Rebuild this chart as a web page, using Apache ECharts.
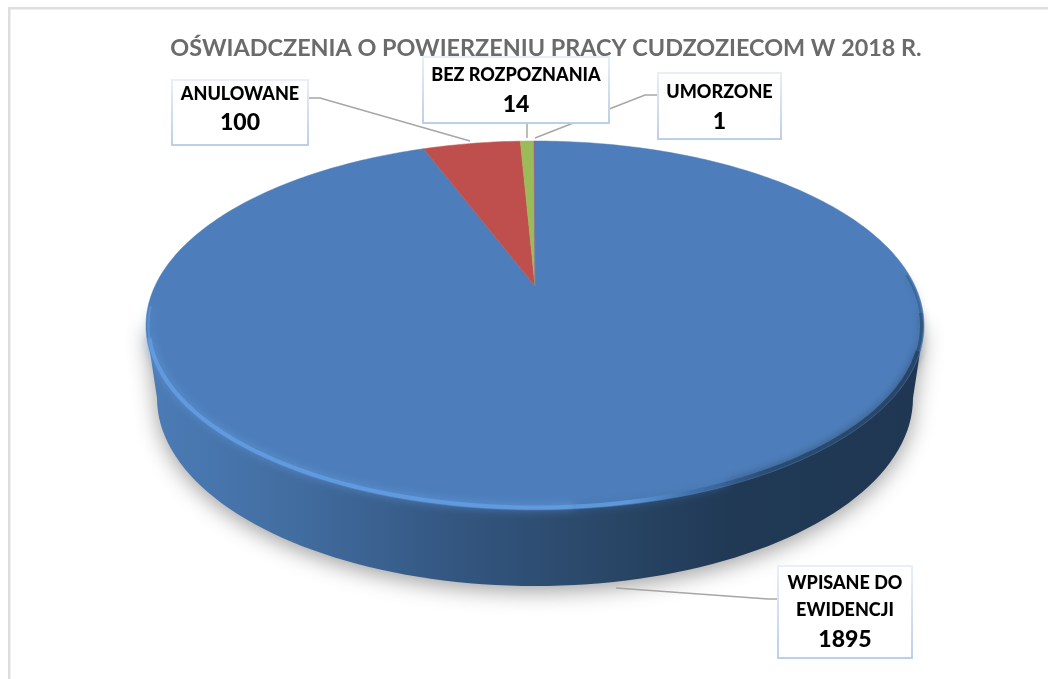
<!DOCTYPE html>
<html>
<head>
<meta charset="utf-8">
<title>Oświadczenia o powierzeniu pracy cudzoziecom</title>
<script src="https://cdn.jsdelivr.net/npm/echarts@6/dist/echarts.min.js"></script>
<style>
  html, body { margin: 0; padding: 0; background: #fff; }
  #main { width: 1048px; height: 679px; }
</style>
</head>
<body>
<div id="main"></div>
<script>
const titleText = 'OŚWIADCZENIA O POWIERZENIU PRACY CUDZOZIECOM W 2018 R.'
const categories = ['WPISANE DO\nEWIDENCJI', 'ANULOWANE', 'BEZ ROZPOZNANIA', 'UMORZONE']
const values = [1895, 100, 14, 1]
const sliceColors = ['#4d7ebb', '#bf4f4c', '#9bbb59', '#8064a2']

// label boxes, same order as categories
const labelBoxes = [
  { x: 778, y: 566, w: 134, h: 92, nameY: 597, valueY: 640, leader: [[616, 588], [768, 599], [778, 599]] },
  { x: 172, y: 80, w: 136, h: 65, nameY: 94, valueY: 123, leader: [[308, 98], [320, 98], [470, 141]] },
  { x: 423, y: 57, w: 186, h: 66, nameY: 75, valueY: 105, leader: [[527, 123], [527, 138]] },
  { x: 658, y: 73, w: 123, h: 66, nameY: 92, valueY: 122, leader: [[658, 95], [645, 95], [535, 138]] }
]

// pie face seen in perspective: apex of the slices and projection factors
const apex = [535, 286]
const faceA = 380
const faceB = 176
const faceK = -0.214
// outline of the face and of the bottom of the disc
const face = { cx: 535, cy: 325.5, rx: 389, ry: 184.5 }
const base = { cx: 535, cy: 398, rx: 378, ry: 188 }

const total = values.reduce((a, b) => a + b, 0)

// angle in degrees, clockwise from 12 o'clock
const project = deg => {
  const a = deg * Math.PI / 180
  const u = Math.sin(a)
  const v = -Math.cos(a)
  const d = 1 + faceK * v
  return [apex[0] + faceA * u / d, apex[1] + faceB * v / d]
}

const ellipseArc = (e, from, to, inset) => {
  const pts = []
  const n = Math.ceil(Math.abs(to - from) / 2)
  for (let i = 0; i <= n; i++) {
    const a = (from + (to - from) * i / n) * Math.PI / 180
    pts.push([e.cx + (e.rx - inset) * Math.cos(a), e.cy + (e.ry - inset) * Math.sin(a)])
  }
  return pts
}

const renderSide = () => {
  const points = [[face.cx - face.rx, face.cy]]
    .concat(ellipseArc(base, 180, 0, 0))
    .concat([[face.cx + face.rx, face.cy]])
  return {
    type: 'polygon',
    shape: { points },
    style: {
      fill: {
        type: 'linear',
        x: 146, y: 0, x2: 924, y2: 0,
        global: true,
        colorStops: [
          { offset: 0, color: '#4c7cb7' },
          { offset: 0.2, color: '#416c9f' },
          { offset: 0.4, color: '#335680' },
          { offset: 0.6, color: '#294666' },
          { offset: 0.75, color: '#203955' },
          { offset: 1, color: '#1f3752' }
        ]
      },
      shadowColor: 'rgba(0,0,0,0.38)',
      shadowBlur: 22,
      shadowOffsetY: 5
    }
  }
}

const renderSlice = (params, api) => {
  const before = values.slice(0, params.dataIndex).reduce((a, b) => a + b, 0)
  const start = before / total * 360
  const end = start + api.value(0) / total * 360
  const points = [apex]
  const n = Math.max(1, Math.ceil((end - start) / 1))
  for (let i = 0; i <= n; i++) points.push(project(start + (end - start) * i / n))
  const color = sliceColors[params.dataIndex]
  return {
    type: 'polygon',
    shape: { points },
    style: { fill: color, stroke: color, lineWidth: 0.5 }
  }
}

const rimGradient = {
  type: 'linear',
  x: 146, y: 0, x2: 924, y2: 0,
  global: true,
  colorStops: [
    { offset: 0, color: '#66a0e6' },
    { offset: 0.62, color: '#66a0e6' },
    { offset: 0.7, color: '#3f6fa8' },
    { offset: 0.8, color: '#234263' },
    { offset: 1, color: '#1f3752' }
  ]
}

const rimLine = (from, to, width, glow, opacity) => ({
  type: 'polyline',
  shape: { points: ellipseArc(face, from, to, 2.5) },
  style: { stroke: rimGradient, lineWidth: width, fill: null, shadowColor: glow, shadowBlur: 8, opacity }
})

const renderRim = () => ({
  type: 'group',
  children: [
    rimLine(186, 176, 2, '#66a0e6', 0.5),
    rimLine(176, 84, 4, '#66a0e6', 0.75),
    rimLine(84, 60, 4, '#3f6fa8', 0.75),
    rimLine(60, 8, 4, '#1f3752', 0.75),
    rimLine(8, -4, 3, '#1f3752', 0.5),
    rimLine(-4, -16, 2, '#1f3752', 0.3)
  ]
})

const labelGraphics = []
categories.forEach((name, i) => {
  const box = labelBoxes[i]
  labelGraphics.push({
    type: 'polyline',
    z: 10,
    shape: { points: box.leader },
    style: { stroke: '#a6a6a6', lineWidth: 1.5, fill: null }
  }, {
    type: 'rect',
    z: 11,
    shape: { x: box.x, y: box.y, width: box.w, height: box.h },
    style: {
      fill: '#fff',
      lineWidth: 2,
      stroke: {
        type: 'linear', x: 0, y: 0, x2: 0, y2: 1,
        colorStops: [{ offset: 0, color: '#e8eff8' }, { offset: 1, color: '#bccfe8' }]
      }
    }
  }, {
    type: 'text',
    z: 12,
    style: {
      x: box.x + box.w / 2,
      y: box.nameY,
      text: name,
      align: 'center',
      verticalAlign: 'middle',
      fill: '#000',
      font: '900 18px Lato',
      lineHeight: 27
    }
  }, {
    type: 'text',
    z: 12,
    style: {
      x: box.x + box.w / 2,
      y: box.valueY,
      text: String(values[i]),
      align: 'center',
      verticalAlign: 'middle',
      fill: '#000',
      font: '900 23px Lato'
    }
  })
})

const chart = echarts.init(document.getElementById('main'))
chart.setOption({
  animation: false,
  title: {
    text: titleText,
    left: 541,
    top: 32,
    textAlign: 'center',
    textStyle: { color: '#6b6b6b', fontFamily: 'Lato', fontWeight: 'bold', fontSize: 23.4 }
  },
  graphic: [
    { type: 'rect', z: 0, shape: { x: 8, y: 7, width: 1040, height: 2.5 }, style: { fill: '#dedede' } },
    { type: 'rect', z: 0, shape: { x: 8, y: 7, width: 2.5, height: 672 }, style: { fill: '#dedede' } }
  ].concat(labelGraphics),
  series: [
    { type: 'custom', coordinateSystem: 'none', z: 1, silent: true, data: [0], renderItem: renderSide },
    { type: 'custom', coordinateSystem: 'none', z: 2, silent: true, data: values, renderItem: renderSlice },
    { type: 'custom', coordinateSystem: 'none', z: 3, silent: true, data: [0], renderItem: renderRim }
  ]
})
</script>
</body>
</html>
